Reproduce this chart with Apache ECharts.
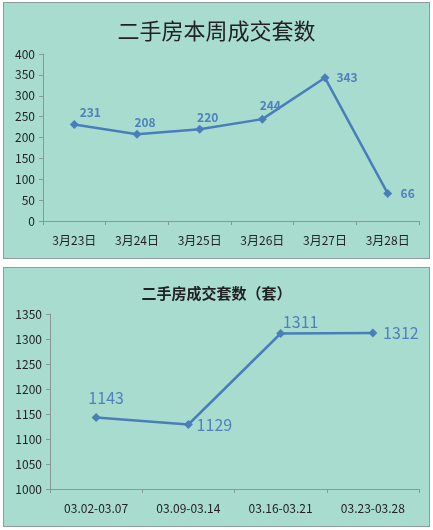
<!DOCTYPE html>
<html>
<head>
<meta charset="utf-8">
<script src="https://cdn.jsdelivr.net/npm/echarts@6/dist/echarts.min.js"></script>
<style>
  html, body { margin: 0; padding: 0; background: #fff; }
  .panel {
    position: absolute;
    left: 3px;
    width: 425px;
    background: #a8dccf;
    border: 1px solid #8c9c98;
  }
  #top { top: 2px; height: 255px; }
  #bottom { top: 267px; height: 258px; }
</style>
</head>
<body>
<div id="top" class="panel"></div>
<div id="bottom" class="panel"></div>
<script>
// weekly data
var weekDays = ['3月23日', '3月24日', '3月25日', '3月26日', '3月27日', '3月28日'];
var weekValues = [231, 208, 220, 244, 343, 66];
var weekTicks = [0, 50, 100, 150, 200, 250, 300, 350, 400];

// period data
var periods = ['03.02-03.07', '03.09-03.14', '03.16-03.21', '03.23-03.28'];
var periodValues = [1143, 1129, 1311, 1312];
var periodTicks = [1000, 1050, 1100, 1150, 1200, 1250, 1300, 1350];

var lineBlue = '#4a7ebb';
var font = '"Noto Sans CJK SC", sans-serif';

// label offsets per point (dx, dy)
var weekOffsets = [[16, -12], [8, -12], [8, -12], [8, -14], [22, 0], [20, 0]];
var periodOffsets = [[10, -20], [26, 0], [20, -12], [28, 0]];

function axisCommon() {
    return {
        axisLine: { show: true, lineStyle: { color: '#8a9894', width: 1 } },
        axisTick: { show: true, lineStyle: { color: '#8a9894' }, length: 4 },
        splitLine: { show: false }
    };
}

function makeOption(title, titleSize, titleWeight, titleTop, grid, cats, vals, ticks, offsets, labelSize, labelWeight) {
    var xa = axisCommon();
    xa.type = 'category';
    xa.boundaryGap = true;
    xa.data = cats;
    xa.axisLabel = { color: '#222', fontSize: 12, fontFamily: font, margin: 13 };

    var ya = axisCommon();
    ya.type = 'value';
    ya.min = ticks[0];
    ya.max = ticks[ticks.length - 1];
    ya.interval = ticks[1] - ticks[0];
    ya.axisLabel = {
        color: '#222', fontSize: 12, fontFamily: font, margin: 8,
        formatter: function (v) { return String(v); }
    };

    return {
        animation: false,
        title: {
            text: title,
            left: 'center',
            top: titleTop,
            textStyle: { fontSize: titleSize, fontWeight: titleWeight, color: '#222', fontFamily: font }
        },
        grid: grid,
        xAxis: xa,
        yAxis: ya,
        series: [{
            type: 'line',
            symbol: 'diamond',
            symbolSize: 9,
            itemStyle: { color: lineBlue },
            lineStyle: { color: lineBlue, width: 2.5 },
            data: vals.map(function (v, i) {
                return {
                    value: v,
                    label: { offset: offsets[i] }
                };
            }),
            label: {
                show: true,
                position: 'inside',
                color: '#4f81bd',
                fontSize: labelSize,
                fontWeight: labelWeight,
                fontFamily: font
            }
        }]
    };
}

var topChart = echarts.init(document.getElementById('top'));
topChart.setOption(makeOption('二手房本周成交套数', 22, 'normal', 12,
    { left: 39, right: 10, top: 51, bottom: 37 },
    weekDays, weekValues, weekTicks, weekOffsets, 12, 'bold'));

var bottomChart = echarts.init(document.getElementById('bottom'));
bottomChart.setOption(makeOption('二手房成交套数（套）', 15, 'bold', 13,
    { left: 46, right: 10, top: 46, bottom: 37 },
    periods, periodValues, periodTicks, periodOffsets, 16, 'normal'));
</script>
</body>
</html>
